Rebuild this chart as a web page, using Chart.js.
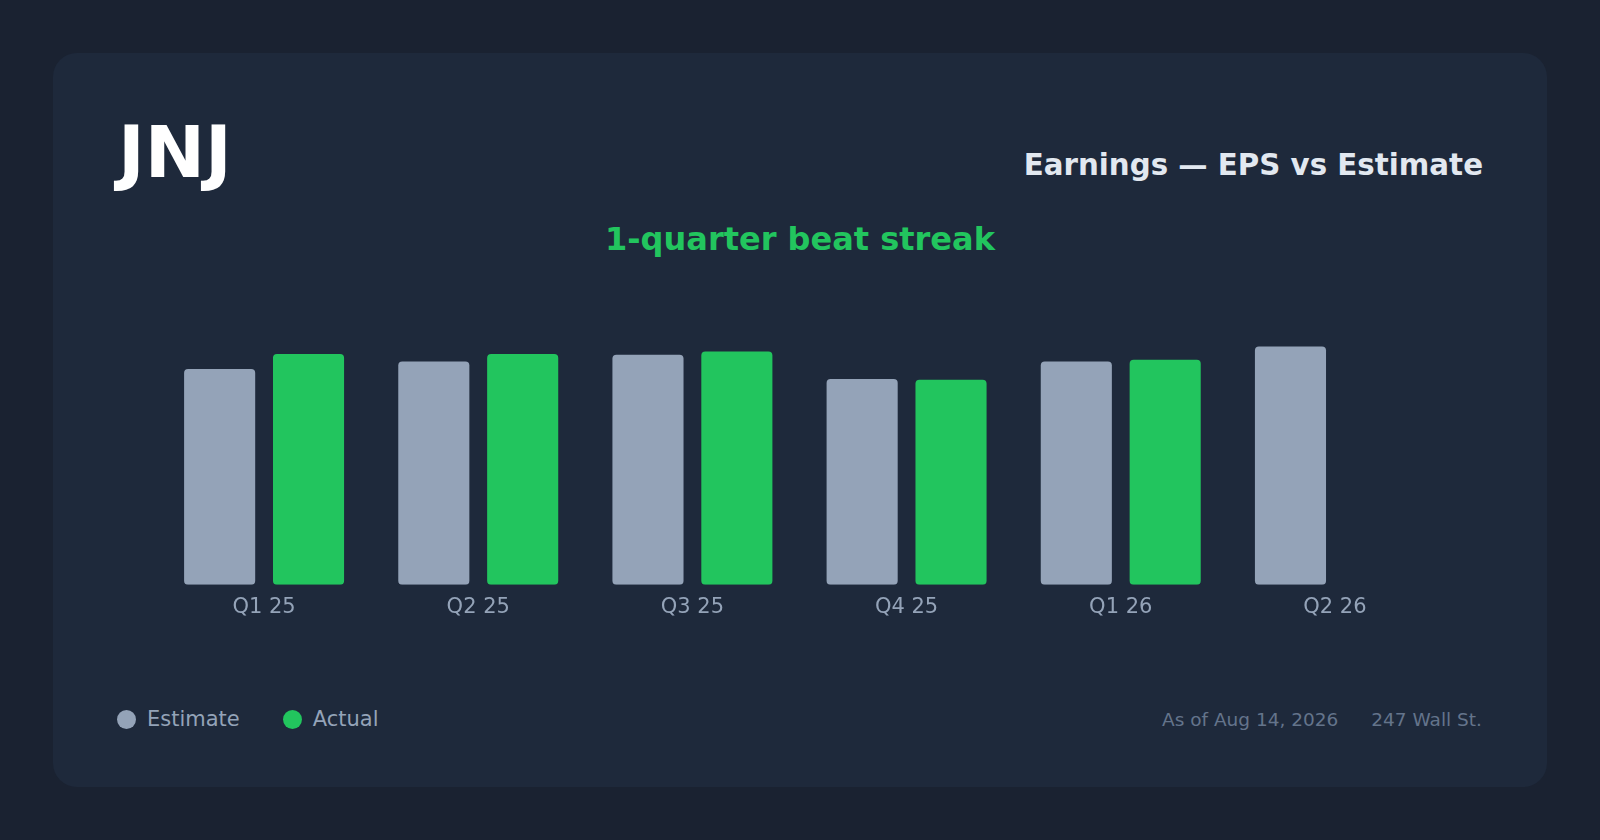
<!DOCTYPE html>
<html>
<head>
<meta charset="utf-8">
<script src="https://cdn.jsdelivr.net/npm/chart.js@4.4.1/dist/chart.umd.min.js"></script>
<style>
  html, body { margin: 0; padding: 0; }
  body {
    width: 1600px; height: 840px; overflow: hidden;
    background: #1a2231;
    font-family: 'DejaVu Sans', sans-serif;
    position: relative;
  }
  .card {
    position: absolute; left: 53px; top: 53px; width: 1494px; height: 734px;
    background: #1e293b; border-radius: 24px;
  }
  .abs { position: absolute; line-height: 1; white-space: nowrap; }
  .ticker { left: 118px; top: 116px; font-size: 72px; font-weight: bold; color: #ffffff; }
  .title { right: 117px; top: 151px; font-size: 29.3px; font-weight: bold; color: #e2e8f0; }
  .streak { left: 0; width: 1600px; text-align: center; top: 223px; font-size: 32px; font-weight: bold; color: #22c55e; }
  .chart-box { position: absolute; left: 157px; top: 292px; width: 1285px; height: 338px; }
  .legend { position: absolute; left: 117px; top: 699px; height: 40px; display: flex; align-items: center; font-size: 21px; color: #94a3b8; }
  .legend .item { display: flex; align-items: center; margin-right: 43px; }
  .legend .dot { width: 19px; height: 19px; border-radius: 50%; margin-right: 11px; }
  .footer { position: absolute; right: 118px; top: 699px; height: 40px; display: flex; align-items: center; font-size: 18.5px; color: #64748b; }
  .footer span + span { margin-left: 33px; }
</style>
</head>
<body>
<div class="card"></div>
<div class="abs ticker">JNJ</div>
<div class="abs title">Earnings — EPS vs Estimate</div>
<div class="abs streak">1-quarter beat streak</div>
<div class="chart-box"><canvas id="epsChart"></canvas></div>
<div class="legend" id="legend"></div>
<div class="footer"><span>As of Aug 14, 2026</span><span>247 Wall St.</span></div>

<script>
const quarters = ['Q1 25', 'Q2 25', 'Q3 25', 'Q4 25', 'Q1 26', 'Q2 26'];
const estimateEps = [2.58, 2.67, 2.75, 2.46, 2.67, 2.85];
const actualEps = [2.76, 2.76, 2.79, 2.45, 2.69, null];

const estimateColor = '#94a3b8';
const actualColor = '#22c55e';

const barStyle = {
  borderRadius: 4,
  borderSkipped: false,
  categoryPercentage: 0.83,
  barPercentage: 0.8,
};

const ctx = document.getElementById('epsChart').getContext('2d');
const epsChart = new Chart(ctx, {
  type: 'bar',
  data: {
    labels: quarters,
    datasets: [
      { label: 'Estimate', data: estimateEps, backgroundColor: estimateColor, ...barStyle },
      { label: 'Actual', data: actualEps, backgroundColor: actualColor, ...barStyle },
    ],
  },
  options: {
    responsive: true,
    maintainAspectRatio: false,
    animation: false,
    layout: { padding: 0 },
    plugins: {
      legend: { display: false },
      tooltip: { enabled: false },
    },
    scales: {
      x: {
        grid: { display: false, drawTicks: false },
        border: { display: false },
        ticks: {
          color: '#94a3b8',
          font: { family: 'DejaVu Sans', size: 21 },
          padding: 10,
        },
      },
      y: { display: false, min: 0, max: 3.5 },
    },
  },
});

// legend built from the chart's own datasets
const legend = document.getElementById('legend');
epsChart.data.datasets.forEach((ds) => {
  const item = document.createElement('div');
  item.className = 'item';
  const dot = document.createElement('span');
  dot.className = 'dot';
  dot.style.background = ds.backgroundColor;
  const text = document.createElement('span');
  text.textContent = ds.label;
  item.append(dot, text);
  legend.append(item);
});
</script>
</body>
</html>
